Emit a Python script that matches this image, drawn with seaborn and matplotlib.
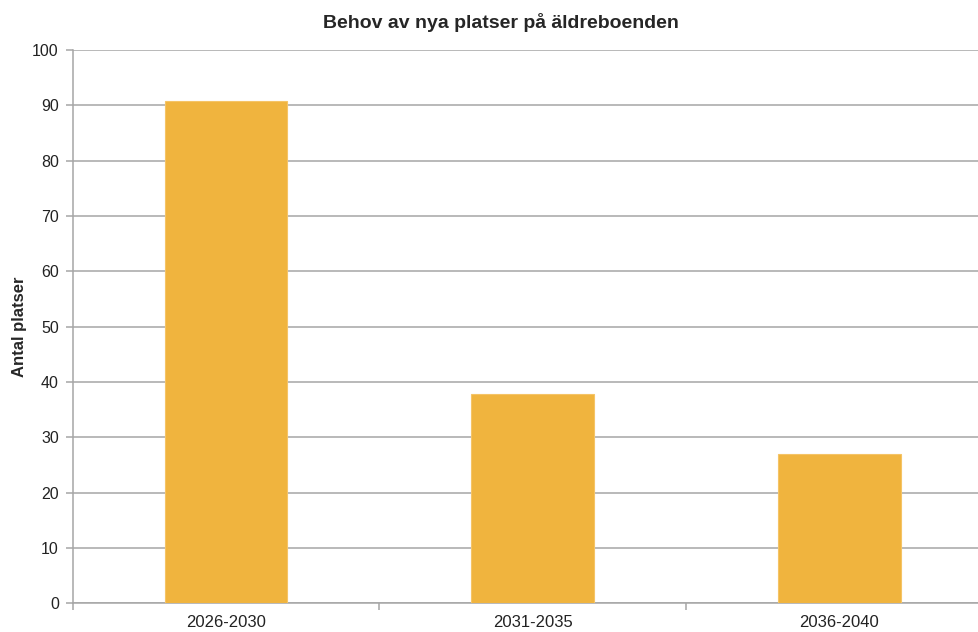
import matplotlib
matplotlib.use("Agg")
import matplotlib.pyplot as plt
import seaborn as sns
import pandas as pd

# data
periods = ["2026-2030", "2031-2035", "2036-2040"]
places = [90.8, 37.8, 26.9]

df = pd.DataFrame({"Period": periods, "Antal platser": places})

sns.set_style("white")
plt.rcParams["font.family"] = ["Liberation Sans", "DejaVu Sans"]

fig = plt.figure(figsize=(9.79, 6.32), dpi=100)
ax = fig.add_axes([0.0743, 0.0454, 0.9397, 0.8755])

sns.barplot(data=df, x="Period", y="Antal platser", color="#F0B43E",
            width=0.40, saturation=1, edgecolor="#F5C466", linewidth=0.8,
            ax=ax, zorder=3)

ax.set_ylim(0, 100)
ax.set_xlim(-0.5, 2.5)
ax.set_yticks(range(0, 101, 10))
ax.yaxis.grid(True, color="#A6A6A6", linewidth=1.1, zorder=0)
ax.set_axisbelow(True)

for side in ["top", "right"]:
    ax.spines[side].set_visible(False)
for side in ["left", "bottom"]:
    ax.spines[side].set_color("#A6A6A6")
    ax.spines[side].set_linewidth(1.1)

ax.tick_params(axis="y", left=True, length=5, width=1.1, color="#A6A6A6",
               labelsize=11.5, labelcolor="#222222", pad=5)
ax.tick_params(axis="x", bottom=False, labelsize=12, labelcolor="#222222", pad=5)
ax.set_xticks([-0.5, 0.5, 1.5], minor=True)
ax.tick_params(axis="x", which="minor", bottom=True, length=5, width=1.1,
               color="#A6A6A6")

ax.set_xlabel("")
ax.set_ylabel("Antal platser", fontsize=12, fontweight="bold", labelpad=3.5)
fig.text(0.512, 0.964, "Behov av nya platser på äldreboenden", fontsize=14,
         fontweight="bold", ha="center", va="center")

fig.savefig("out.png", dpi=100)
